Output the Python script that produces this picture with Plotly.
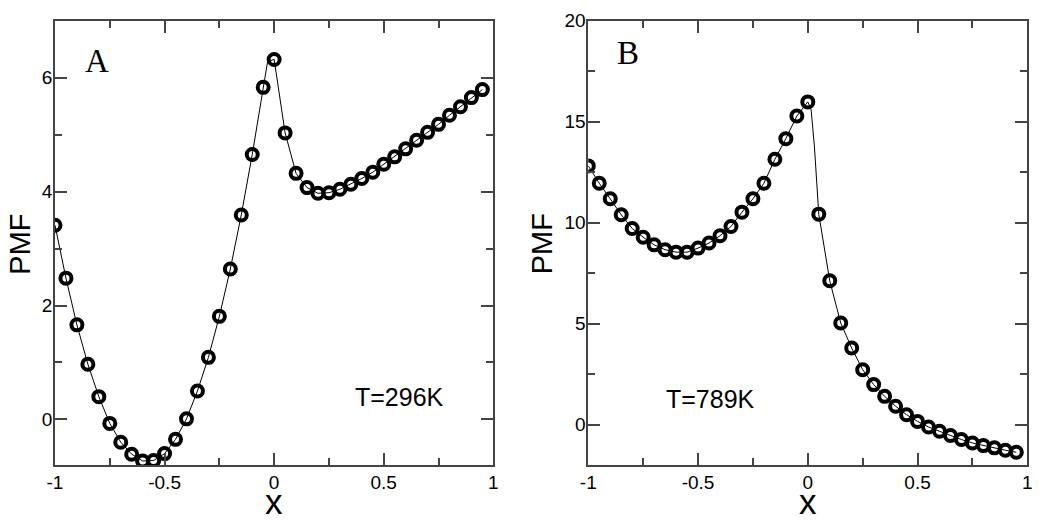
import plotly.graph_objects as go

# ---------------- data ----------------
x_pts = [-1.0, -0.95, -0.9, -0.85, -0.8, -0.75, -0.7, -0.65, -0.6, -0.55,
         -0.5, -0.45, -0.4, -0.35, -0.3, -0.25, -0.2, -0.15, -0.1, -0.05,
         0.0, 0.05, 0.1, 0.15, 0.2, 0.25, 0.3, 0.35, 0.4, 0.45,
         0.5, 0.55, 0.6, 0.65, 0.7, 0.75, 0.8, 0.85, 0.9, 0.95]

pmf_a = [3.41, 2.48, 1.66, 0.97, 0.40, -0.07, -0.40, -0.61, -0.73, -0.72,
         -0.60, -0.35, 0.01, 0.50, 1.09, 1.81, 2.64, 3.59, 4.65, 5.83,
         6.32, 5.03, 4.32, 4.07, 3.97, 3.98, 4.04, 4.13, 4.23, 4.34,
         4.48, 4.61, 4.75, 4.90, 5.04, 5.18, 5.34, 5.49, 5.65, 5.79]

pmf_b = [12.81, 11.95, 11.18, 10.39, 9.71, 9.28, 8.90, 8.66, 8.54, 8.54,
         8.74, 8.99, 9.35, 9.81, 10.52, 11.18, 11.95, 13.14, 14.16, 15.28,
         15.98, 10.42, 7.12, 5.03, 3.79, 2.72, 1.98, 1.40, 0.91, 0.49,
         0.16, -0.12, -0.33, -0.54, -0.74, -0.91, -1.04, -1.15, -1.27, -1.37]

# thin line curves (a few extra points near the peak)
line_x_a = x_pts[:20] + [-0.03] + x_pts[20:]
line_y_a = pmf_a[:20] + [6.28] + pmf_a[20:]
line_x_b = x_pts[:21] + [0.015, 0.03] + x_pts[21:]
line_y_b = pmf_b[:21] + [15.6, 13.8] + pmf_b[21:]

x_tickvals = [-1, -0.5, 0, 0.5, 1]
x_ticktext = ["-1", "-0.5", "0", "0.5", "1"]
ya_tickvals = [0, 2, 4, 6]
ya_ticktext = ["0", "2", "4", "6"]
yb_tickvals = [0, 5, 10, 15, 20]
yb_ticktext = ["0", "5", "10", "15", "20"]

panel_labels = ["A", "B"]
temp_labels = ["T=296K", "T=789K"]
y_title = "PMF"
x_title = "x"

# ---------------- figure ----------------
W, H = 1050, 525
fig = go.Figure()

marker_style = dict(symbol="circle-open", size=11, color="black",
                    line=dict(width=4.0, color="black"))

fig.add_trace(go.Scatter(x=line_x_a, y=line_y_a, mode="lines",
                         line=dict(color="black", width=1),
                         xaxis="x", yaxis="y", showlegend=False))
fig.add_trace(go.Scatter(x=x_pts, y=pmf_a, mode="markers", marker=marker_style,
                         xaxis="x", yaxis="y", showlegend=False))
fig.add_trace(go.Scatter(x=line_x_b, y=line_y_b, mode="lines",
                         line=dict(color="black", width=1),
                         xaxis="x2", yaxis="y2", showlegend=False))
fig.add_trace(go.Scatter(x=x_pts, y=pmf_b, mode="markers", marker=marker_style,
                         xaxis="x2", yaxis="y2", showlegend=False))

tickfont = dict(family="Liberation Sans, Arial, sans-serif", size=19, color="black")
frame = dict(showline=True, mirror="allticks", linecolor="#444", linewidth=1.8,
             ticks="inside", ticklen=12, tickwidth=1.6, tickcolor="#444",
             showgrid=False, zeroline=False, tickfont=tickfont,
             automargin=False, fixedrange=True)
minor_x = dict(dtick=0.25, ticklen=7, tickwidth=1.6, tickcolor="#444", ticks="inside", showgrid=False)

ydom = [1 - 465 / H, 1 - 20.7 / H]
xa_dom = [55 / W, 493.3 / W]
xb_dom = [588.3 / W, 1027.3 / W]

fig.update_layout(
    width=W, height=H,
    margin=dict(l=0, r=0, t=0, b=0),
    paper_bgcolor="white", plot_bgcolor="white",
    xaxis=dict(domain=xa_dom, range=[-1, 1], tickvals=x_tickvals, ticktext=x_ticktext,
               minor=minor_x, anchor="y", ticklabelstandoff=-1, **frame),
    yaxis=dict(domain=ydom, range=[-0.8, 7], tickvals=ya_tickvals, ticktext=ya_ticktext,
               minor=dict(dtick=1, ticklen=7, tickwidth=1.6, tickcolor="#444", ticks="inside", showgrid=False),
               anchor="x", ticklabelstandoff=-3, **frame),
    xaxis2=dict(domain=xb_dom, range=[-1, 1], tickvals=x_tickvals, ticktext=x_ticktext,
                minor=minor_x, anchor="y2", ticklabelstandoff=-1, **frame),
    yaxis2=dict(domain=ydom, range=[-2, 20], tickvals=yb_tickvals, ticktext=yb_ticktext,
                minor=dict(dtick=2.5, ticklen=7, tickwidth=1.6, tickcolor="#444", ticks="inside", showgrid=False),
                anchor="x2", ticklabelstandoff=-3, **frame),
)

sans = "Liberation Sans, Arial, sans-serif"
serif = "Liberation Serif, Times New Roman, serif"
annots = [
    dict(text=panel_labels[0], x=-0.81, y=6.29, xref="x", yref="y",
         font=dict(family=serif, size=33, color="black")),
    dict(text=panel_labels[1], x=-0.82, y=18.4, xref="x2", yref="y2",
         font=dict(family=serif, size=33, color="black")),
    dict(text=temp_labels[0], x=0.574, y=0.40, xref="x", yref="y",
         font=dict(family=sans, size=25, color="black")),
    dict(text=temp_labels[1], x=-0.442, y=1.29, xref="x2", yref="y2",
         font=dict(family=sans, size=25, color="black")),
    dict(text=y_title, x=19.7 / W, y=1 - 244 / H, xref="paper", yref="paper", textangle=-90,
         font=dict(family=sans, size=29, color="black")),
    dict(text=y_title, x=542.3 / W, y=1 - 244 / H, xref="paper", yref="paper", textangle=-90,
         font=dict(family=sans, size=29, color="black")),
    dict(text=x_title, x=274 / W, y=1 - 501 / H, xref="paper", yref="paper",
         font=dict(family=sans, size=35, color="black")),
    dict(text=x_title, x=808.3 / W, y=1 - 501 / H, xref="paper", yref="paper",
         font=dict(family=sans, size=35, color="black")),
]
for a in annots:
    a.update(showarrow=False, xanchor="center", yanchor="middle")
fig.update_layout(annotations=annots)

fig.write_html("out.html", config={"displayModeBar": False},
               post_script="document.body.style.margin='0';document.body.style.padding='0';")
